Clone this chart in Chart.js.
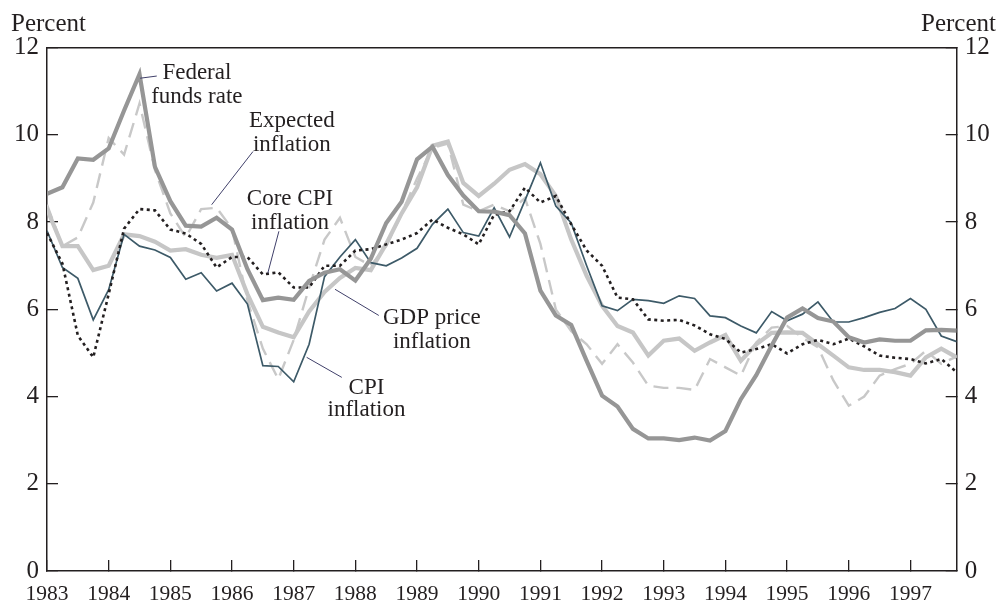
<!DOCTYPE html>
<html><head><meta charset="utf-8">
<script src="https://cdn.jsdelivr.net/npm/chart.js@4.4.0/dist/chart.umd.min.js"></script>
<style>html,body{margin:0;padding:0;background:#fff;}#wrap{width:997px;height:605px;position:relative;}</style>
</head><body><div id="wrap"><canvas id="c" width="997" height="605"></canvas></div>
<script>
// Quarterly observations 1983Q1 .. 1997Q4
const startYear = 1983;
const quarterCount = 60;
const quarters = Array.from({length: quarterCount}, (_, i) => startYear + i / 4);

const fedFunds = [8.65,8.80,9.46,9.43, 9.69,10.56,11.39,9.27, 8.48,7.92,7.90,8.10, 7.83,6.92,6.21,6.27,
  6.22,6.65,6.84,6.92, 6.66,7.16,7.98,8.47, 9.44,9.73,9.08,8.61, 8.25,8.24,8.16,7.74,
  6.43,5.86,5.64,4.82, 4.02,3.77,3.26,3.04, 3.04,3.00,3.06,2.99, 3.21,3.94,4.49,5.17,
  5.81,6.02,5.80,5.72, 5.36,5.24,5.31,5.28, 5.28,5.52,5.53,5.51];
const expectedInfl = [8.40,7.45,7.65,8.45, 9.93,9.55,10.72,9.20, 8.20,7.65,8.30,8.33, 7.85,6.20,5.10,4.40,
  5.30,6.50,7.60,8.10, 7.20,7.00,7.45,8.20, 9.00,9.70,9.80,8.40, 8.25,8.40,8.25,8.55,
  7.50,6.00,5.50,5.20, 4.75,5.20,4.78,4.25, 4.20,4.20,4.15,4.86, 4.67,4.48,5.24,5.58,
  5.62,5.35,5.13,4.37, 3.79,4.00,4.48,4.63, 4.75,5.05,4.75,4.92];
const coreCpi = [7.75,7.05,5.40,4.90, 6.35,7.85,8.30,8.27, 7.83,7.74,7.50,6.96, 7.20,7.20,6.80,6.85,
  6.50,6.50,7.00,7.00, 7.35,7.38,7.49,7.60, 7.75,8.06,7.87,7.72, 7.49,8.17,8.25,8.79,
  8.45,8.60,7.95,7.35, 7.00,6.27,6.23,5.77, 5.74,5.76,5.63,5.43, 5.32,5.01,5.09,5.20,
  4.99,5.20,5.30,5.20, 5.33,5.15,4.94,4.89, 4.86,4.76,4.86,4.56];
const gdpPrice = [8.30,7.45,7.45,6.90, 7.00,7.72,7.68,7.55, 7.35,7.38,7.25,7.18, 7.25,6.35,5.60,5.47,
  5.36,5.95,6.40,6.72, 6.95,6.90,7.50,8.20, 8.80,9.75,9.85,8.90, 8.60,8.88,9.20,9.33,
  9.10,8.60,7.60,6.77, 6.08,5.62,5.47,4.94, 5.28,5.33,5.05,5.24, 5.41,4.82,5.20,5.46,
  5.47,5.46,5.20,4.94, 4.67,4.61,4.61,4.56, 4.48,4.90,5.10,4.90];
const cpiInfl = [7.80,6.96,6.71,5.76, 6.45,7.72,7.45,7.36, 7.19,6.69,6.84,6.42, 6.60,6.12,4.71,4.69,
  4.34,5.20,6.75,7.20, 7.60,7.07,7.00,7.18, 7.40,7.95,8.30,7.76, 7.68,8.33,7.66,8.50,
  9.36,8.37,7.98,7.00, 6.08,5.97,6.23,6.20, 6.14,6.31,6.25,5.85, 5.81,5.62,5.46,5.95,
  5.74,5.89,6.17,5.71, 5.71,5.81,5.93,6.02, 6.25,6.00,5.39,5.26];

const yTicks = [0, 2, 4, 6, 8, 10, 12];
const yearTicks = [1983,1984,1985,1986,1987,1988,1989,1990,1991,1992,1993,1994,1995,1996,1997];

// Annotation labels and leader lines, in data units (year, percent)
const labelTexts = [['Federal','funds rate'], ['Expected','inflation'], ['Core CPI','inflation'], ['GDP price','inflation'], ['CPI','inflation']];
const labelX = [1985.43, 1986.97, 1986.94, 1989.24, 1988.18];
const labelY = [[11.28,10.74], [10.19,9.62], [8.39,7.84], [5.66,5.11], [4.06,3.56]];
const leaderFrom = [[1984.51,11.30], [1985.67,8.40], [1986.58,6.83], [1987.67,6.46], [1987.21,4.90]];
const leaderTo = [[1984.78,11.35], [1986.34,9.62], [1986.76,7.79], [1988.38,5.86], [1987.78,4.44]];

const ink = '#231f20';
const serif = '"Liberation Serif","Times New Roman",serif';

function pts(vals){ return vals.map((v,i)=>({x: quarters[i], y: v})); }

const decor = {
  id: 'decor',
  afterDatasetsDraw(chart){
    const {ctx, chartArea, scales} = chart;
    const xs = scales.x, ys = scales.y;
    ctx.save();
    // top frame line
    ctx.strokeStyle = ink; ctx.lineWidth = 1.5;
    ctx.beginPath(); ctx.moveTo(chartArea.left, chartArea.top); ctx.lineTo(chartArea.right, chartArea.top); ctx.stroke();
    // leader lines
    ctx.strokeStyle = '#40406a'; ctx.lineWidth = 1;
    for (let i = 0; i < leaderFrom.length; i++){
      ctx.beginPath();
      ctx.moveTo(xs.getPixelForValue(leaderFrom[i][0]), ys.getPixelForValue(leaderFrom[i][1]));
      ctx.lineTo(xs.getPixelForValue(leaderTo[i][0]), ys.getPixelForValue(leaderTo[i][1]));
      ctx.stroke();
    }
    // labels
    ctx.fillStyle = ink; ctx.font = '23px ' + serif; ctx.textAlign = 'center'; ctx.textBaseline = 'alphabetic';
    for (let i = 0; i < labelTexts.length; i++){
      labelTexts[i].forEach((t, j) => ctx.fillText(t, xs.getPixelForValue(labelX[i]), ys.getPixelForValue(labelY[i][j])));
    }
    // unit labels
    ctx.font = '25px ' + serif;
    ctx.textAlign = 'left'; ctx.fillText('Percent', 11, 30.5);
    ctx.textAlign = 'right'; ctx.fillText('Percent', 996, 30.5);
    ctx.restore();
  }
};

const yScale = (pos) => ({
  type: 'linear', position: pos, min: 0, max: 12,
  afterBuildTicks(s){ s.ticks = yTicks.map(v => ({value: v})); },
  afterFit(s){ s.width = pos === 'left' ? 47 : 40.3; },
  border: {display: true, color: ink, width: 1.5},
  grid: {drawOnChartArea: false, drawTicks: true, tickLength: -11, color: ink, lineWidth: 1.3},
  ticks: {padding: 19, color: ink, font: {family: serif, size: 25}, callback: v => String(v)}
});

new Chart(document.getElementById('c'), {
  type: 'line',
  data: {
    datasets: [
      {label: 'Federal funds rate', data: pts(fedFunds), borderColor: '#969696', borderWidth: 4.2, yAxisID: 'y'},
      {label: 'Core CPI inflation', data: pts(coreCpi), borderColor: ink, borderWidth: 2.6, borderDash: [3, 3.5], yAxisID: 'y'},
      {label: 'CPI inflation', data: pts(cpiInfl), borderColor: '#3d5a68', borderWidth: 1.7, yAxisID: 'y'},
      {label: 'GDP price inflation', data: pts(gdpPrice), borderColor: '#c6c6c6', borderWidth: 4.2, yAxisID: 'y'},
      {label: 'Expected inflation', data: pts(expectedInfl), borderColor: '#c8c8c8', borderWidth: 2.4, borderDash: [15, 8], yAxisID: 'y'}
    ]
  },
  options: {
    responsive: false, animation: false, devicePixelRatio: 1,
    layout: {padding: {top: 47.7, left: 0, right: 0, bottom: 0}},
    elements: {point: {radius: 0}, line: {tension: 0, fill: false}},
    plugins: {legend: {display: false}, tooltip: {enabled: false}},
    scales: {
      x: {
        type: 'linear', position: 'bottom', min: 1983, max: 1997.75,
        afterBuildTicks(s){ s.ticks = yearTicks.map(v => ({value: v})); },
        afterFit(s){ s.height = 32.3; },
        border: {display: true, color: ink, width: 1.5},
        grid: {drawOnChartArea: false, drawTicks: true, tickLength: -11, color: ink, lineWidth: 1.3},
        ticks: {padding: 21, autoSkip: false, maxRotation: 0, color: ink, font: {family: serif, size: 21.5}, callback: v => String(v)}
      },
      y: yScale('left'),
      y2: Object.assign(yScale('right'), {display: true})
    }
  },
  plugins: [decor]
});
</script></body></html>
